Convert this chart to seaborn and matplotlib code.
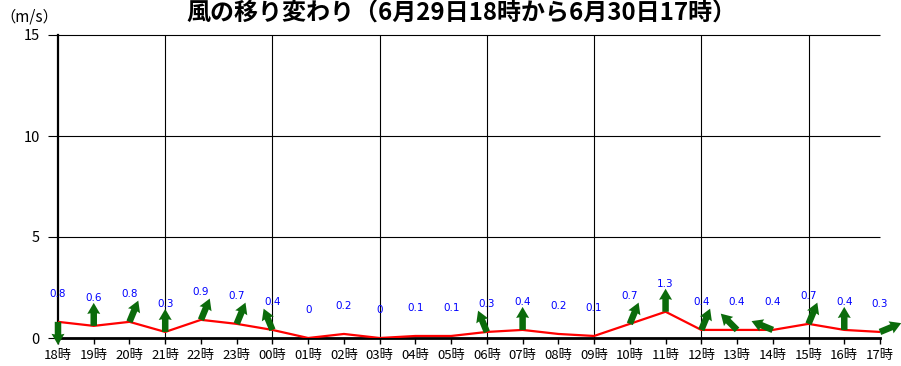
import numpy as np
import pandas as pd
import matplotlib
matplotlib.use("Agg")
import matplotlib.pyplot as plt
import seaborn as sns

# ---- data ----
hours = ["18時", "19時", "20時", "21時", "22時", "23時", "00時", "01時", "02時", "03時",
         "04時", "05時", "06時", "07時", "08時", "09時", "10時", "11時", "12時", "13時",
         "14時", "15時", "16時", "17時"]
speeds = [0.8, 0.6, 0.8, 0.3, 0.9, 0.7, 0.4, 0, 0.2, 0,
          0.1, 0.1, 0.3, 0.4, 0.2, 0.1, 0.7, 1.3, 0.4, 0.4,
          0.4, 0.7, 0.4, 0.3]
# wind direction (where the wind blows from); None = no arrow drawn
wind_from = ["北", "南", "南南西", "南", "南南西", "南南西", "南南東", None, None, None,
             None, None, "南南東", "南", None, None, "南南西", "南", "南南西", "南東",
             "東南東", "南南西", "南", "西南西"]
compass = ["北", "北北東", "北東", "東北東", "東", "東南東", "南東", "南南東",
           "南", "南南西", "南西", "西南西", "西", "西北西", "北西", "北北西"]
title = "風の移り変わり（6月29日18時から6月30日17時）"
unit_label = "（m/s）"
y_ticks = [0, 5, 10, 15]

df = pd.DataFrame({"pos": np.arange(len(hours)), "speed": speeds, "from": wind_from})

# ---- style ----
sns.set_style("ticks")
plt.rcParams["font.family"] = ["Noto Sans CJK JP", "DejaVu Sans"]

fig = plt.figure(figsize=(9.01, 3.66), dpi=100)
ax = fig.add_axes([58 / 901, 28 / 366, 822 / 901, 303 / 366])

sns.lineplot(data=df, x="pos", y="speed", color="#ff0000", linewidth=1.6, ax=ax, zorder=3)

ax.set_xlim(0, len(hours) - 1)
ax.set_ylim(0, 15)
ax.set_xticks(df["pos"])
ax.set_xticklabels(hours, fontsize=9.5)
ax.set_yticks(y_ticks)
ax.set_yticklabels([str(t) for t in y_ticks], fontsize=10.5)
ax.set_xlabel("")
ax.set_ylabel("")

ax.tick_params(axis="y", which="major", length=0, pad=13, labelcolor="black")
ax.tick_params(axis="x", which="major", length=4, width=1.0, color="black",
               pad=4, direction="out", bottom=True, labelcolor="black")
ax.minorticks_off()

ax.grid(False)
# horizontal grid lines, extended left of the axis as tick marks
ax.hlines(y_ticks, xmin=-10 / 822, xmax=1, transform=ax.get_yaxis_transform(),
          colors="black", linewidth=0.8, clip_on=False, zorder=1)
# vertical grid lines every 3 hours
for xp in df["pos"][3::3]:
    ax.axvline(xp, color="black", linewidth=0.8, zorder=1)

for s in ["top", "right"]:
    ax.spines[s].set_visible(False)
ax.spines["left"].set_linewidth(1.6)
ax.spines["left"].set_color("black")
ax.spines["bottom"].set_linewidth(2.0)
ax.spines["bottom"].set_color("black")
ax.spines["bottom"].set_zorder(2)

# ---- wind arrows ----
arr = df.dropna(subset=["from"]).copy()
to_deg = np.array([(compass.index(d) * 22.5 + 180) % 360 for d in arr["from"]])
U = np.sin(np.deg2rad(to_deg))
V = np.cos(np.deg2rad(to_deg))
q = ax.quiver(arr["pos"], arr["speed"], U, V, angles="uv", units="dots",
              scale_units="dots", scale=1 / 23, width=6.5, headwidth=2.0,
              headlength=1.7, headaxislength=1.6, pivot="tail",
              color="#0b6b0b", zorder=4)
q.set_clip_on(False)

# ---- value labels ----
for x, v in zip(df["pos"], df["speed"]):
    ax.annotate(f"{v:g}", (x, v), xytext=(0, 20), textcoords="offset points",
                ha="center", va="center", fontsize=7.5, color="#0000ff",
                family=["DejaVu Sans"], zorder=5)

fig.text(461 / 901, 1 - 14 / 366, title, ha="center", va="center",
         fontsize=17.3, fontweight="bold", color="black")
fig.text(0, 1 - 17 / 366, unit_label, ha="left", va="center", fontsize=11, color="black")

fig.savefig("out.png", dpi=100)
